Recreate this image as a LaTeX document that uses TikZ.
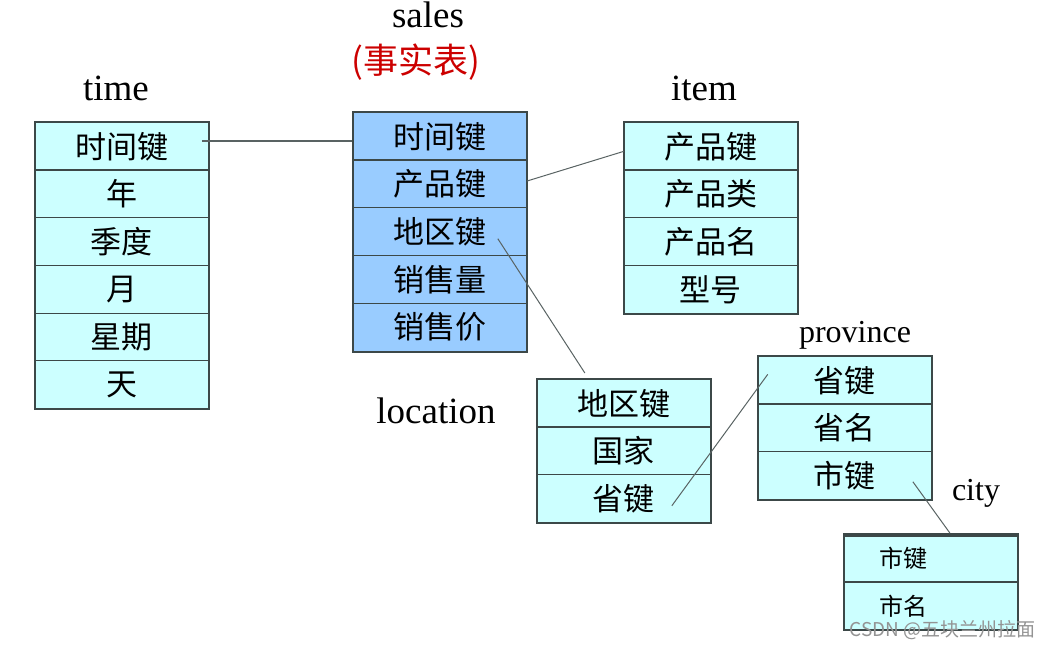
\documentclass[tikz,border=0pt]{standalone}
\usepackage{fontspec}
\setmainfont{Liberation Serif}
\newfontfamily\cjk{Noto Sans CJK SC}
\usepackage{xcolor}
\usepackage{tikz}
\usetikzlibrary{calc, positioning, matrix}
\definecolor{dimfill}{HTML}{CCFFFF}
\definecolor{factfill}{HTML}{99CCFF}
\definecolor{edge}{HTML}{3C4848}
\tikzset{
    table/.style={
        matrix of nodes,
        nodes={
            draw=edge,
            line width=1.2pt,
            minimum width=173pt,
            minimum height=48pt,
            anchor=center,
            fill=dimfill,
            inner sep=0pt,
            font=\cjk\fontsize{31}{31}\selectfont
        },
        column sep=-\pgflinewidth,
        row sep=-\pgflinewidth,
        draw=edge,
        line width=1.5pt,
        inner sep=0pt,
        anchor=north west
    },
    fact/.style={table, nodes={fill=factfill}},
    cityrow/.style={table, nodes={text width=102pt, inner xsep=35pt, align=left, font=\cjk\fontsize{24}{24}\selectfont}},
    title/.style={font=\fontsize{37}{37}\selectfont, anchor=base, inner sep=0pt},
    small title/.style={title, font=\fontsize{32}{32}\selectfont},
    link/.style={draw=edge!85, line width=1pt}
}

\begin{document}
\begin{tikzpicture}[x=1pt, y=-1pt]
        \useasboundingbox (0,0) rectangle (1052,647);

        % fact table
        \matrix[fact] (Sales) at (352,111) {
            时间键 \\ 产品键 \\ 地区键 \\ 销售量 \\ 销售价 \\
        };
        \node[title] at (428,28) {sales};
        \node[inner sep=0pt, text=red!80!black, font=\cjk\fontsize{35}{35}\selectfont] at (416,62) {(事实表)};

        % dimension tables
        \matrix[table] (Time) at (34,121) {
            时间键 \\ 年 \\ 季度 \\ 月 \\ 星期 \\ 天 \\
        };
        \node[title] at (116,101) {time};

        \matrix[table] (Item) at (623,121) {
            产品键 \\ 产品类 \\ 产品名 \\ 型号 \\
        };
        \node[title] at (704,101) {item};

        \matrix[table] (Location) at (536,378) {
            地区键 \\ 国家 \\ 省键 \\
        };
        \node[title] at (436,423) {location};

        \matrix[table] (Province) at (757,355) {
            省键 \\ 省名 \\ 市键 \\
        };
        \node[small title] at (855,342) {province};

        \matrix[cityrow] (City) at (843,533) {
            市键 \\ 市名 \\
        };
        \draw[edge, line width=1.2pt] ($(City.north west)+(0,3)$) -- ($(City.north east)+(0,3)$);
        \node[small title] at (976,500) {city};

        % keys
        \draw[link, line width=2pt] (Time-1-1.east) ++(-7,-5) coordinate (t1) -- (t1 -| Sales.west);
        \draw[link] ($(Sales-2-1.east)+(0,-3)$) -- ($(Item-1-1.west)+(0,5)$);
        \draw[link] ($(Sales-3-1.center)+(58,7)$) -- ($(Location.north)+(-39,-5)$);
        \draw[link] ($(Location-3-1.center)+(48,7)$) -- ($(Province-1-1.west)+(10,-6)$);
        \draw[link] ($(Province-3-1.center)+(68,6)$) -- ($(City.north)+(19,0)$);

        % watermark
        \node[anchor=south east, inner sep=0pt, text=gray!85, font=\cjk\fontsize{19}{19}\selectfont] (Mark) at (1036,640) {CSDN @五块兰州拉面};

    \end{tikzpicture}
\end{document}
